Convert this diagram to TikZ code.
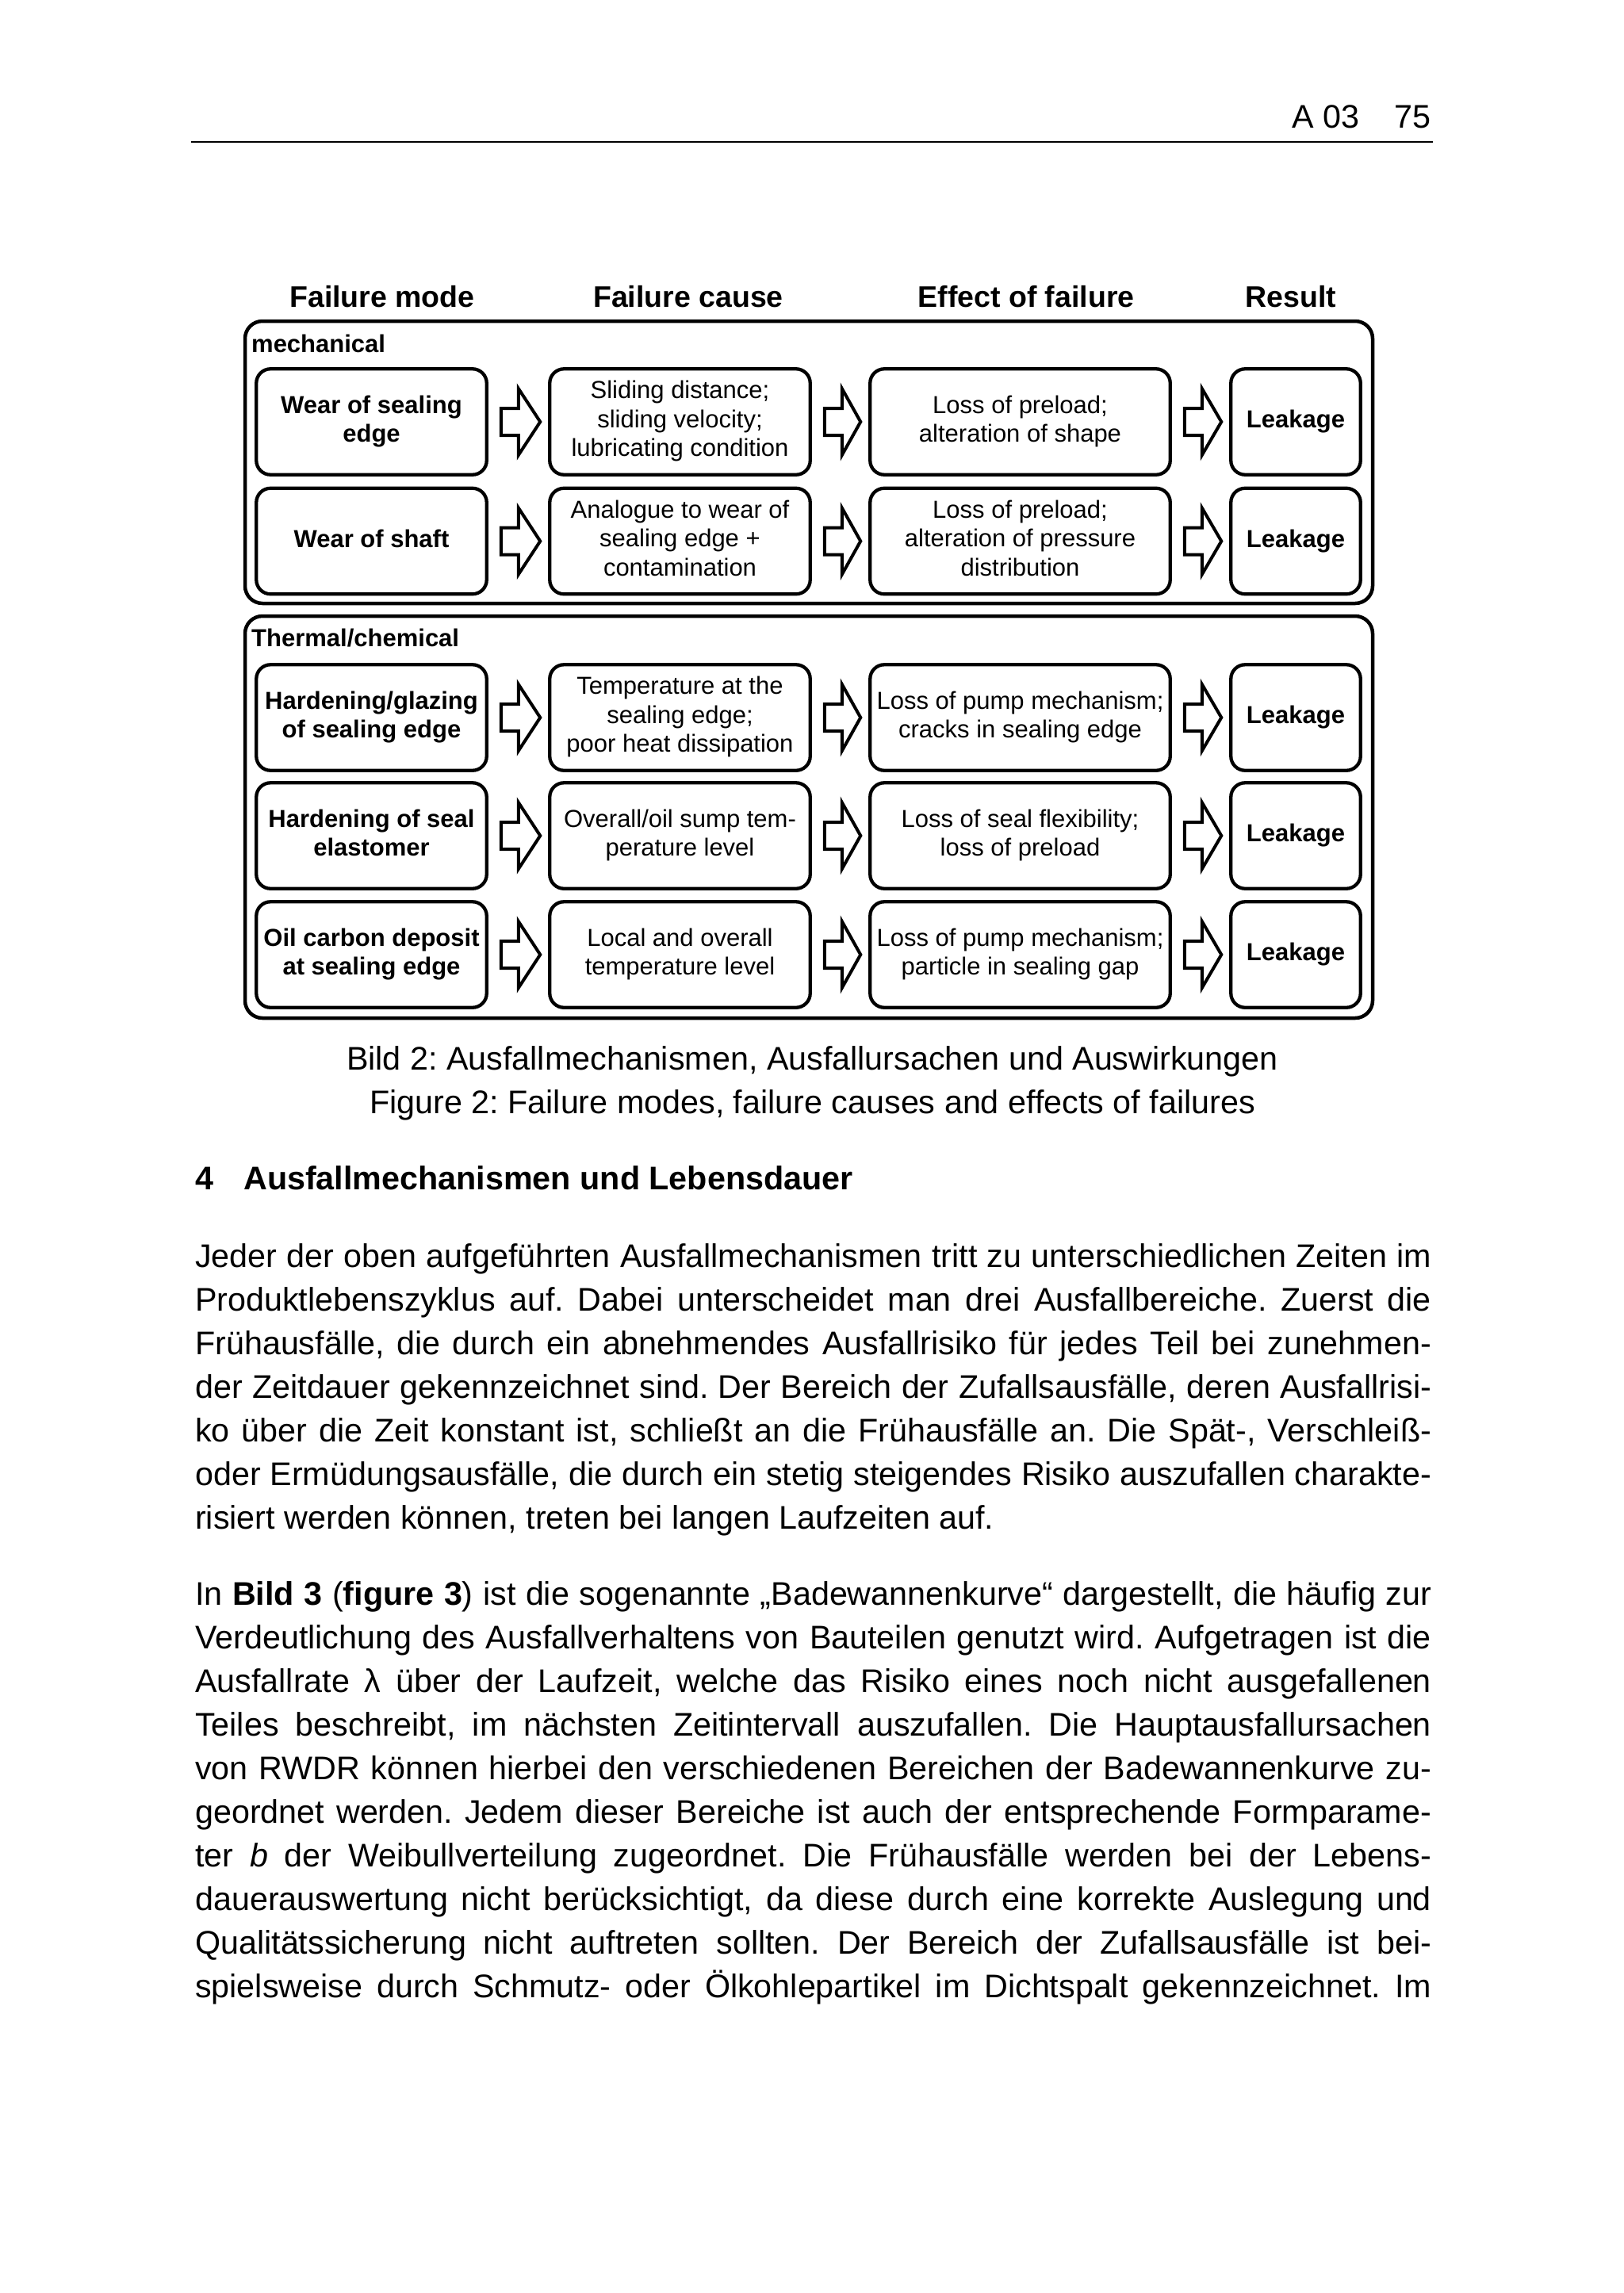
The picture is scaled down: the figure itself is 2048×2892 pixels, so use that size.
\documentclass[tikz,border=0pt]{standalone}
\usepackage{fontspec}
\setmainfont{Liberation Sans}
\usetikzlibrary{calc}
\frenchspacing
\newcommand{\tstrt}{\rule{0pt}{22.5pt}}
\newcommand{\bstrt}{\rule[-7.5pt]{0pt}{7.5pt}}
\newcommand{\jline}[1]{\makebox[1559pt][s]{#1}}
\newcommand{\barrow}[2]{\draw[blockarrow] ($(#1.east)+(18,17)$) -- ($(#1.east)+(40,17)$) -- ($(#1.east)+(40,42)$) -- ($(#2.west)+(-12,0)$) -- ($(#1.east)+(40,-42)$) -- ($(#1.east)+(40,-17)$) -- ($(#1.east)+(18,-17)$) -- cycle;}
\tikzset{
  box/.style={draw, line width=4.3pt, rounded corners=18pt, minimum height=133.5pt, inner sep=0pt, outer sep=0pt, align=center, font={\fontsize{31}{36.5}\selectfont}, execute at begin node=\tstrt, execute at end node=\bstrt},
  boldbox/.style={box, font={\fontsize{31}{36.5}\selectfont\bfseries}},
  colA/.style={minimum width=290.5pt},
  colB/.style={minimum width=328.5pt},
  colC/.style={minimum width=378.5pt},
  colD/.style={minimum width=163.5pt},
  groupbox/.style={draw, line width=4.5pt, rounded corners=22pt, inner sep=0pt, outer sep=0pt, minimum width=1422pt},
  grouplabel/.style={anchor=base west, inner sep=0pt, font={\fontsize{31}{36.5}\selectfont\bfseries}},
  colhead/.style={anchor=base, inner sep=0pt, font={\fontsize{37.5}{45}\selectfont\bfseries}},
  bodytext/.style={anchor=base west, inner sep=0pt, font={\fontsize{41.28}{55}\selectfont}},
  bodybold/.style={bodytext, font={\fontsize{41.28}{55}\selectfont\bfseries}},
  captext/.style={anchor=base, inner sep=0pt, font={\fontsize{41.28}{55}\selectfont}},
  headtext/.style={anchor=base east, inner sep=0pt, font={\fontsize{41.28}{55}\selectfont}},
  blockarrow/.style={draw, line width=4pt, fill=white, line join=miter}
}
\begin{document}
\frenchspacing
\begin{tikzpicture}[x=1pt,y=-1pt]
\fill[white] (0,0) rectangle (2048,2892);
\useasboundingbox (0,0) rectangle (2048,2892);

% running head
\node[headtext] (hdA) at (1715,161) {A 03};
\node[headtext] (hdP) at (1805,161) {75};
\coordinate (ruleL) at (241,179);
\coordinate (ruleR) at (1807,179);
\draw[line width=1.8pt] (ruleL) -- (ruleR);

% column heads
\node[colhead] (h1) at (482,387) {Failure mode};
\node[colhead] (h2) at (868,387) {Failure cause};
\node[colhead] (h3) at (1294,387) {Effect of failure};
\node[colhead] (h4) at (1628,387) {Result};

% groups
\node[groupbox, minimum height=356pt] (g1) at (1020,583) {};
\node[groupbox, minimum height=507pt] (g2) at (1020,1030.5) {};
\node[grouplabel] (g1l) at (317,444) {mechanical};
\node[grouplabel] (g2l) at (317,815) {Thermal/chemical};

% row 1
\node[boldbox, colA] (m1) at (468.5,532) {Wear of sealing\\edge};
\node[box, colB] (c1) at (857.5,532) {Sliding distance;\\sliding velocity;\\lubricating condition};
\node[box, colC] (e1) at (1286.5,532) {Loss of preload;\\alteration of shape};
\node[boldbox, colD] (r1) at (1634,532) {Leakage};
% row 2
\node[boldbox, colA] (m2) at (468.5,682.5) {Wear of shaft};
\node[box, colB] (c2) at (857.5,682.5) {Analogue to wear of\\sealing edge +\\contamination};
\node[box, colC] (e2) at (1286.5,682.5) {Loss of preload;\\alteration of pressure\\distribution};
\node[boldbox, colD] (r2) at (1634,682.5) {Leakage};
% row 3
\node[boldbox, colA] (m3) at (468.5,905) {Hardening/glazing\\of sealing edge};
\node[box, colB] (c3) at (857.5,905) {Temperature at the\\sealing edge;\\poor heat dissipation};
\node[box, colC] (e3) at (1286.5,905) {Loss of pump mechanism;\\cracks in sealing edge};
\node[boldbox, colD] (r3) at (1634,905) {Leakage};
% row 4
\node[boldbox, colA] (m4) at (468.5,1054) {Hardening of seal\\elastomer};
\node[box, colB] (c4) at (857.5,1054) {Overall/oil sump tem-\\perature level};
\node[box, colC] (e4) at (1286.5,1054) {Loss of seal flexibility;\\loss of preload};
\node[boldbox, colD] (r4) at (1634,1054) {Leakage};
% row 5
\node[boldbox, colA] (m5) at (468.5,1204) {Oil carbon deposit\\at sealing edge};
\node[box, colB] (c5) at (857.5,1204) {Local and overall\\temperature level};
\node[box, colC] (e5) at (1286.5,1204) {Loss of pump mechanism;\\particle in sealing gap};
\node[boldbox, colD] (r5) at (1634,1204) {Leakage};

% block arrows
\foreach \i in {1,...,5} {
  \barrow{m\i}{c\i}
  \barrow{c\i}{e\i}
  \barrow{e\i}{r\i}
}

% caption
\node[captext] (cap1) at (1024.5,1349) {Bild 2: Ausfallmechanismen, Ausfallursachen und Auswirkungen};
\node[captext] (cap2) at (1024.5,1404) {Figure 2: Failure modes, failure causes and effects of failures};

% section heading
\node[bodybold] (secn) at (246,1500) {4};
\node[bodybold] (sect) at (307,1500) {Ausfallmechanismen und Lebensdauer};

% paragraph 1
\node[bodytext] (pa1) at (246,1598) {\jline{Jeder der oben aufgeführten Ausfallmechanismen tritt zu unterschiedlichen Zeiten im}};
\node[bodytext] (pa2) at (246,1653) {\jline{Produktlebenszyklus auf. Dabei unterscheidet man drei Ausfallbereiche. Zuerst die}};
\node[bodytext] (pa3) at (246,1708) {\jline{Frühausfälle, die durch ein abnehmendes Ausfallrisiko für jedes Teil bei zunehmen-}};
\node[bodytext] (pa4) at (246,1763) {\jline{der Zeitdauer gekennzeichnet sind. Der Bereich der Zufallsausfälle, deren Ausfallrisi-}};
\node[bodytext] (pa5) at (246,1818) {\jline{ko über die Zeit konstant ist, schließt an die Frühausfälle an. Die Spät-, Verschleiß-}};
\node[bodytext] (pa6) at (246,1873) {\jline{oder Ermüdungsausfälle, die durch ein stetig steigendes Risiko auszufallen charakte-}};
\node[bodytext] (pa7) at (246,1928) {risiert werden können, treten bei langen Laufzeiten auf.};

% paragraph 2
\node[bodytext] (pb1) at (246,2024) {\jline{In \textbf{Bild 3} (\textbf{figure 3}) ist die sogenannte „Badewannenkurve“ dargestellt, die häufig zur}};
\node[bodytext] (pb2) at (246,2079) {\jline{Verdeutlichung des Ausfallverhaltens von Bauteilen genutzt wird. Aufgetragen ist die}};
\node[bodytext] (pb3) at (246,2134) {\jline{Ausfallrate λ über der Laufzeit, welche das Risiko eines noch nicht ausgefallenen}};
\node[bodytext] (pb4) at (246,2189) {\jline{Teiles beschreibt, im nächsten Zeitintervall auszufallen. Die Hauptausfallursachen}};
\node[bodytext] (pb5) at (246,2244) {\jline{von RWDR können hierbei den verschiedenen Bereichen der Badewannenkurve zu-}};
\node[bodytext] (pb6) at (246,2299) {\jline{geordnet werden. Jedem dieser Bereiche ist auch der entsprechende Formparame-}};
\node[bodytext] (pb7) at (246,2354) {\jline{ter \textit{b} der Weibullverteilung zugeordnet. Die Frühausfälle werden bei der Lebens-}};
\node[bodytext] (pb8) at (246,2409) {\jline{dauerauswertung nicht berücksichtigt, da diese durch eine korrekte Auslegung und}};
\node[bodytext] (pb9) at (246,2464) {\jline{Qualitätssicherung nicht auftreten sollten. Der Bereich der Zufallsausfälle ist bei-}};
\node[bodytext] (pb10) at (246,2519) {\jline{spielsweise durch Schmutz- oder Ölkohlepartikel im Dichtspalt gekennzeichnet. Im}};
\end{tikzpicture}
\end{document}
